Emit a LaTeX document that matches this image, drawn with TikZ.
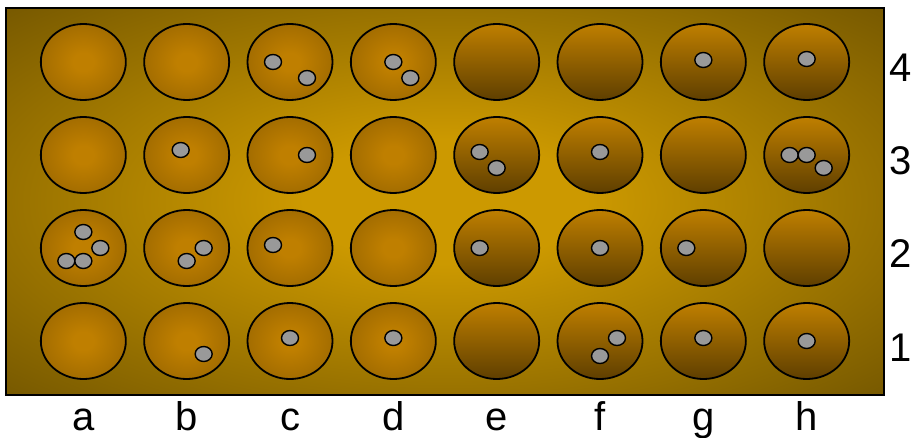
\documentclass[tikz,border=0pt]{standalone}
\usepackage{fontspec}
\setmainfont{Liberation Sans}
\usetikzlibrary{shapes.geometric}

\definecolor{boardlight}{HTML}{CC9900}
\definecolor{boarddark}{HTML}{664C00}
\definecolor{pitlight}{HTML}{BF7F00}
\definecolor{pitrim}{HTML}{7F5500}
\definecolor{pitdeep}{HTML}{5F3F00}
\definecolor{seedgrey}{HTML}{999999}

\pgfdeclareradialshading{boardglow}{\pgfpoint{0bp}{0bp}}{color(0bp)=(boardlight); color(8bp)=(boardlight); color(41bp)=(boarddark); color(100bp)=(boarddark)}
\pgfdeclareradialshading{pitglow}{\pgfpoint{0bp}{0bp}}{color(0bp)=(pitlight); color(6bp)=(pitlight); color(50bp)=(pitrim); color(100bp)=(pitrim)}

\begin{document}
\begin{tikzpicture}[x=103.33pt, y=93pt]
		\tikzset{
			pit/.style={ellipse, draw=black, line width=1.8pt, minimum width=85pt, minimum height=76pt, inner sep=0pt},
			bowl/.style={pit, shade, shading=pitglow},
			slope/.style={pit, top color=pitlight, bottom color=pitdeep},
			seed/.style={ellipse, draw=black, line width=1.4pt, fill=seedgrey, minimum width=17pt, minimum height=15pt, inner sep=0pt},
			lbl/.style={anchor=base, inner sep=0pt, font=\fontsize{40}{48}\selectfont}
		};

		\useasboundingbox (0.1935, -0.0323) rectangle (9.0290, 4.6667);
		\shade[shading=boardglow, draw=black, line width=1.4pt] (0.2516, 0.4194) rectangle (8.7487, 4.5806);

		\node[bowl] (a4) at (1, 4) {};
		\node[bowl] (b4) at (2, 4) {};
		\node[bowl] (c4) at (3, 4) {};
		\node[bowl] (d4) at (4, 4) {};
		\node[slope] (e4) at (5, 4) {};
		\node[slope] (f4) at (6, 4) {};
		\node[slope] (g4) at (7, 4) {};
		\node[slope] (h4) at (8, 4) {};

		\node[bowl] (a3) at (1, 3) {};
		\node[bowl] (b3) at (2, 3) {};
		\node[bowl] (c3) at (3, 3) {};
		\node[bowl] (d3) at (4, 3) {};
		\node[slope] (e3) at (5, 3) {};
		\node[slope] (f3) at (6, 3) {};
		\node[slope] (g3) at (7, 3) {};
		\node[slope] (h3) at (8, 3) {};

		\node[bowl] (a2) at (1, 2) {};
		\node[bowl] (b2) at (2, 2) {};
		\node[bowl] (c2) at (3, 2) {};
		\node[bowl] (d2) at (4, 2) {};
		\node[slope] (e2) at (5, 2) {};
		\node[slope] (f2) at (6, 2) {};
		\node[slope] (g2) at (7, 2) {};
		\node[slope] (h2) at (8, 2) {};

		\node[bowl] (a1) at (1, 1) {};
		\node[bowl] (b1) at (2, 1) {};
		\node[bowl] (c1) at (3, 1) {};
		\node[bowl] (d1) at (4, 1) {};
		\node[slope] (e1) at (5, 1) {};
		\node[slope] (f1) at (6, 1) {};
		\node[slope] (g1) at (7, 1) {};
		\node[slope] (h1) at (8, 1) {};

		% seeds, row 4
		\node[seed, xshift=-17pt] (c4s1) at (c4) {};
		\node[seed, xshift=17pt, yshift=-16pt] (c4s2) at (c4) {};
		\node[seed] (d4s1) at (d4) {};
		\node[seed, xshift=17pt, yshift=-16pt] (d4s2) at (d4) {};
		\node[seed, yshift=2pt] (g4s1) at (g4) {};
		\node[seed, yshift=3pt] (h4s1) at (h4) {};

		% seeds, row 3
		\node[seed, xshift=-6pt, yshift=5pt] (b3s1) at (b3) {};
		\node[seed, xshift=17pt] (c3s1) at (c3) {};
		\node[seed, xshift=-17pt, yshift=3pt] (e3s1) at (e3) {};
		\node[seed, yshift=-13pt] (e3s2) at (e3) {};
		\node[seed, yshift=3pt] (f3s1) at (f3) {};
		\node[seed, xshift=-17pt] (h3s1) at (h3) {};
		\node[seed] (h3s2) at (h3) {};
		\node[seed, xshift=17pt, yshift=-13pt] (h3s3) at (h3) {};

		% seeds, row 2
		\node[seed, yshift=16pt] (a2s1) at (a2) {};
		\node[seed, xshift=17pt] (a2s2) at (a2) {};
		\node[seed, xshift=-17pt, yshift=-13pt] (a2s3) at (a2) {};
		\node[seed, yshift=-13pt] (a2s4) at (a2) {};
		\node[seed, xshift=17pt] (b2s1) at (b2) {};
		\node[seed, yshift=-13pt] (b2s2) at (b2) {};
		\node[seed, xshift=-17pt, yshift=3pt] (c2s1) at (c2) {};
		\node[seed, xshift=-17pt] (e2s1) at (e2) {};
		\node[seed] (f2s1) at (f2) {};
		\node[seed, xshift=-17pt] (g2s1) at (g2) {};

		% seeds, row 1
		\node[seed, xshift=17pt, yshift=-13pt] (b1s1) at (b1) {};
		\node[seed, yshift=3pt] (c1s1) at (c1) {};
		\node[seed, yshift=3pt] (d1s1) at (d1) {};
		\node[seed, xshift=17pt, yshift=3pt] (f1s1) at (f1) {};
		\node[seed, yshift=-15pt] (f1s2) at (f1) {};
		\node[seed, yshift=3pt] (g1s1) at (g1) {};
		\node[seed] (h1s1) at (h1) {};

		% files and ranks
		\node[lbl] (fa) at (1, 0.043) {a};
		\node[lbl] (fb) at (2, 0.043) {b};
		\node[lbl] (fc) at (3, 0.043) {c};
		\node[lbl] (fd) at (4, 0.043) {d};
		\node[lbl] (fe) at (5, 0.043) {e};
		\node[lbl] (ff) at (6, 0.043) {f};
		\node[lbl] (fg) at (7, 0.043) {g};
		\node[lbl] (fh) at (8, 0.043) {h};

		\node[lbl] (r1) at (8.913, 0.785) {1};
		\node[lbl] (r2) at (8.913, 1.785) {2};
		\node[lbl] (r3) at (8.913, 2.785) {3};
		\node[lbl] (r4) at (8.913, 3.785) {4};
	\end{tikzpicture}
\end{document}
